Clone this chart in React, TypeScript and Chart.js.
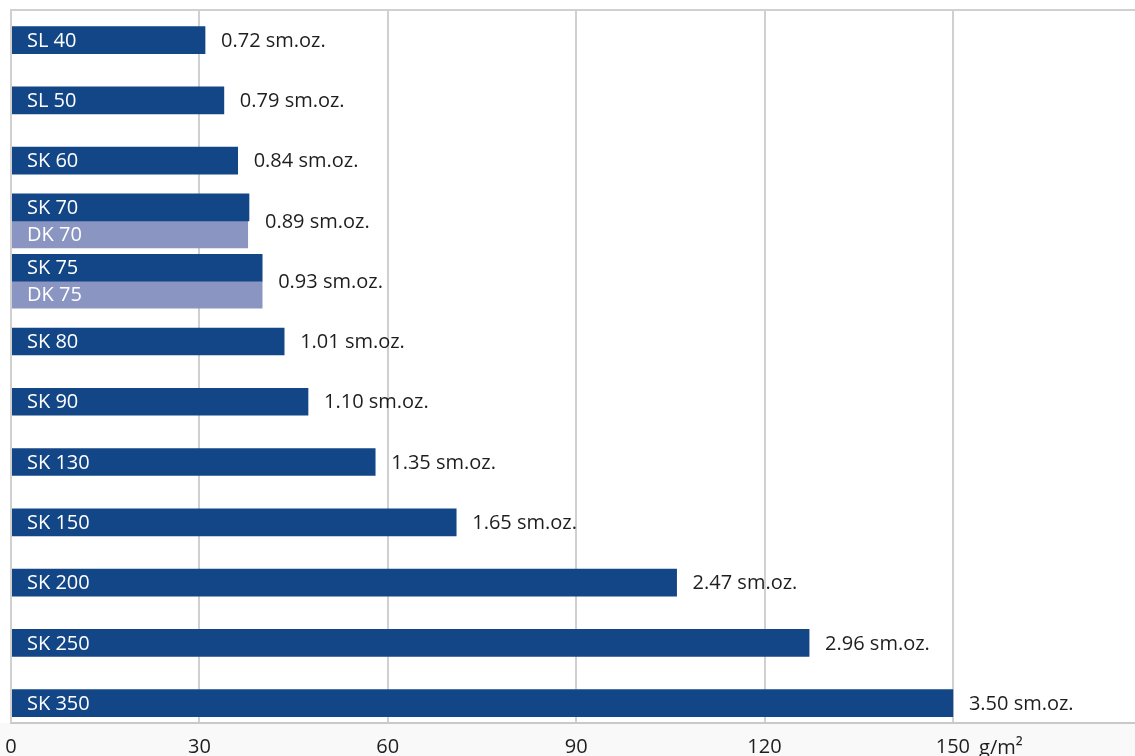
import React, { useEffect, useRef } from "react";
import { Chart, registerables } from "chart.js";

Chart.register(...registerables);

const topLabels = ["SL 40", "SL 50", "SK 60", "SK 70", "SK 75", "SK 80", "SK 90", "SK 130", "SK 150", "SK 200", "SK 250", "SK 350"];
const topValues = [30.9, 33.9, 36.1, 37.9, 40.0, 43.5, 47.3, 58.0, 70.9, 106.0, 127.1, 150];
const bottomLabels: (string | null)[] = [null, null, null, "DK 70", "DK 75", null, null, null, null, null, null, null];
const bottomValues: (number | null)[] = [null, null, null, 37.7, 40.0, null, null, null, null, null, null, null];
const valueLabels = ["0.72 sm.oz.", "0.79 sm.oz.", "0.84 sm.oz.", "0.89 sm.oz.", "0.93 sm.oz.", "1.01 sm.oz.", "1.10 sm.oz.", "1.35 sm.oz.", "1.65 sm.oz.", "2.47 sm.oz.", "2.96 sm.oz.", "3.50 sm.oz."];
const xTicks = [0, 30, 60, 90, 120, 150];
const unitLabel = "g/m²";

const FONT = "'Open Sans', sans-serif";
const DARK = "#124686";
const LIGHT = "#8a95c2";
const GRID = "#d0d0d0";

export default function App() {
  const ref = useRef<HTMLCanvasElement | null>(null);

  useEffect(() => {
    if (!ref.current) return;
    const labelsPlugin = {
      id: "labelsPlugin",
      beforeDraw(chart: any) {
        const { ctx, chartArea, width, height } = chart;
        ctx.save();
        ctx.fillStyle = "#f9f9f9";
        ctx.fillRect(0, chartArea.bottom, width, height - chartArea.bottom);
        ctx.restore();
      },
      afterDraw(chart: any) {
        const { ctx, chartArea } = chart;
        ctx.save();
        ctx.strokeStyle = GRID;
        ctx.lineWidth = 2;
        ctx.beginPath();
        ctx.moveTo(chartArea.left - 1, chartArea.top);
        ctx.lineTo(chart.width, chartArea.top);
        ctx.moveTo(chartArea.left, chartArea.top);
        ctx.lineTo(chartArea.left, chartArea.bottom);
        ctx.stroke();
        ctx.restore();
      },
      afterDatasetsDraw(chart: any) {
        const { ctx, chartArea } = chart;
        const xs = chart.scales.x;
        const ys = chart.scales.y;
        ctx.save();
        ctx.textBaseline = "middle";
        ctx.textAlign = "left";
        ctx.font = `20px ${FONT}`;
        const lblSets = [topLabels, bottomLabels];
        chart.data.datasets.forEach((ds: any, di: number) => {
          const meta = chart.getDatasetMeta(di);
          meta.data.forEach((el: any, i: number) => {
            const t = lblSets[di][i];
            if (!t || ds.data[i].x == null) return;
            ctx.fillStyle = "#ffffff";
            ctx.fillText(t, chartArea.left + 16, el.y + 1);
          });
        });
        ctx.fillStyle = "#1e1e1e";
        valueLabels.forEach((t, i) => {
          const v = Math.max(topValues[i], bottomValues[i] ?? 0);
          const x = xs.getPixelForValue(v) + 16;
          const y = ys.getPixelForValue(i);
          ctx.fillText(t, x, y + 1);
        });
        const last = xTicks[xTicks.length - 1];
        const w = ctx.measureText(String(last)).width;
        ctx.fillText(unitLabel, xs.getPixelForValue(last) + w / 2 + 9, chartArea.bottom + 25);
        ctx.restore();
      },
    };

    const chart = new Chart(ref.current, {
      type: "bar",
      data: {
        datasets: [
          {
            data: topValues.map((v, i) => ({ x: v, y: i })),
            backgroundColor: DARK,
            borderWidth: 0,
          },
          {
            data: bottomValues.map((v, i) => ({ x: v, y: i })),
            backgroundColor: LIGHT,
            borderWidth: 0,
          },
        ],
      },
      options: {
        indexAxis: "y",
        animation: false,
        responsive: true,
        maintainAspectRatio: false,
        layout: { padding: { left: 11, top: 10, right: 0, bottom: 0 } },
        datasets: {
          bar: {
            skipNull: true,
            barThickness: 27,
          },
        },
        plugins: {
          legend: { display: false },
          tooltip: { enabled: false },
        },
        scales: {
          y: {
            type: "linear",
            display: false,
            reverse: true,
            offset: false,
            min: -0.5,
            max: 11.33,
            grid: { offset: false },
            afterBuildTicks: (axis: any) => {
              axis.ticks = topLabels.map((_, i) => ({ value: i }));
            },
          },
          x: {
            type: "linear",
            min: 0,
            max: 179,
            afterBuildTicks: (axis: any) => {
              axis.ticks = xTicks.map((v) => ({ value: v }));
            },
            afterFit: (axis: any) => {
              axis.paddingLeft = 0;
              axis.paddingRight = 0;
              axis.height = 33;
            },
            ticks: {
              includeBounds: false,
              padding: 12,
              color: "#1e1e1e",
              font: { family: FONT, size: 20 },
              maxRotation: 0,
            },
            grid: {
              color: GRID,
              lineWidth: 2,
              drawTicks: false,
            },
            border: { display: true, color: "#c9c9c9", width: 2 },
          },
        },
      },
      plugins: [labelsPlugin],
    } as any);
    return () => chart.destroy();
  }, []);

  return (
    <div style={{ position: "absolute", left: 0, top: 0, width: 1135, height: 756 }}>
      <canvas ref={ref} />
    </div>
  );
}
